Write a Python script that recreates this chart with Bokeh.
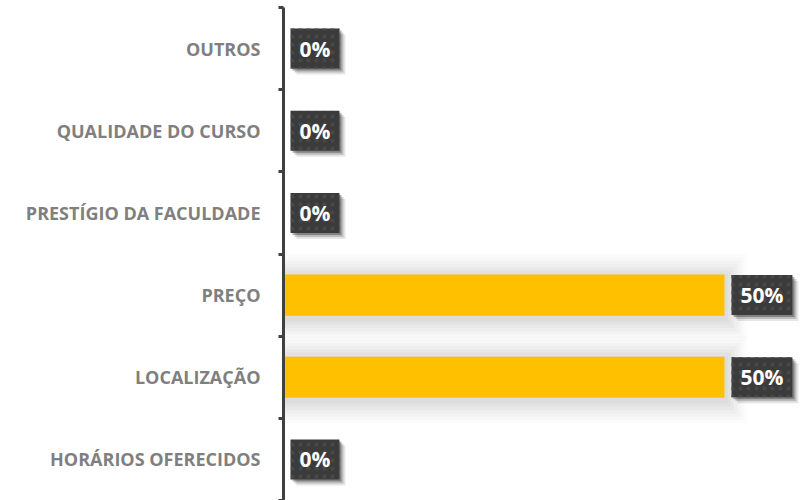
from bokeh.plotting import figure
from bokeh.models import ColumnDataSource, Range1d, FixedTicker
from bokeh.core.properties import value
from bokeh.embed import file_html
from bokeh.resources import INLINE

# Data (top to bottom as shown)
categories = ["OUTROS", "QUALIDADE DO CURSO", "PRESTÍGIO DA FACULDADE",
              "PREÇO", "LOCALIZAÇÃO", "HORÁRIOS OFERECIDOS"]
values = [0.0, 0.0, 0.0, 0.5, 0.5, 0.0]
value_labels = ["0%", "0%", "0%", "50%", "50%", "0%"]

n = len(categories)
ypos = [n - i - 0.5 for i in range(n)]

frame_w = 810 - 283
x_end = 0.5 * frame_w / 441
px_per_unit = frame_w / x_end

src = ColumnDataSource(dict(y=ypos, v=values, lab=value_labels, cat=categories))

p = figure(width=810, height=500, output_backend="svg", toolbar_location=None,
           x_range=Range1d(0, x_end), y_range=Range1d(0, n),
           min_border_left=283, min_border_right=0, min_border_top=7, min_border_bottom=0)
p.background_fill_color = "white"
p.border_fill_color = "white"
p.outline_line_color = None
p.xgrid.visible = False
p.ygrid.visible = False
p.xaxis.visible = False

# soft shadow around bars
for k, a in [(0.56, 0.012), (0.48, 0.015), (0.40, 0.018), (0.32, 0.02),
             (0.24, 0.022), (0.16, 0.024), (0.08, 0.025)]:
    sr = [v + k * 40 / px_per_unit if v > 0 else 0 for v in values]
    ss = ColumnDataSource(dict(y=[y - 0.03 for y in ypos], r=sr))
    p.hbar(y="y", left=0, right="r", height=0.5 + k, source=ss,
           fill_color="#000000", fill_alpha=a, line_color=None)

p.hbar(y="y", left=0, right="v", height=0.5, source=src,
       fill_color="#FFC000", line_color=None)

pad = dict(left=9, right=9, top=6, bottom=6)
common = dict(x="v", y="y", text="lab", source=src, anchor="center_left",
              text_align="left", text_baseline="middle",
              text_font=value("Open Sans"), text_font_style="bold",
              text_font_size="21px", padding=pad)
# label box shadows
for dx, a in [(6, 0.1), (4, 0.18), (2, 0.3)]:
    p.text(x_offset=7 + dx, y_offset=dx, text_alpha=0,
           background_fill_color="#000000", background_fill_alpha=a, **common)

p.text(x_offset=7, y_offset=0, text_color="white",
       background_fill_color="#3b3b3b",
       background_hatch_pattern="dot", background_hatch_color="#484848",
       background_hatch_scale=8, background_hatch_weight=1.5, **common)

ax = p.yaxis[0]
ax.ticker = FixedTicker(ticks=ypos, minor_ticks=list(range(n + 1)))
ax.major_label_overrides = {y: c for y, c in zip(ypos, categories)}
ax.axis_line_color = "#404040"
ax.axis_line_width = 3
ax.major_tick_out = 0
ax.major_tick_in = 0
ax.minor_tick_line_color = "#404040"
ax.minor_tick_line_width = 3
ax.minor_tick_out = 5
ax.minor_tick_in = 0
ax.major_label_standoff = 18
ax.major_label_text_font = "Open Sans"
ax.major_label_text_font_style = "bold"
ax.major_label_text_font_size = "18px"
ax.major_label_text_color = "#7f7f7f"

open("out.html", "w").write(file_html(p, INLINE))
